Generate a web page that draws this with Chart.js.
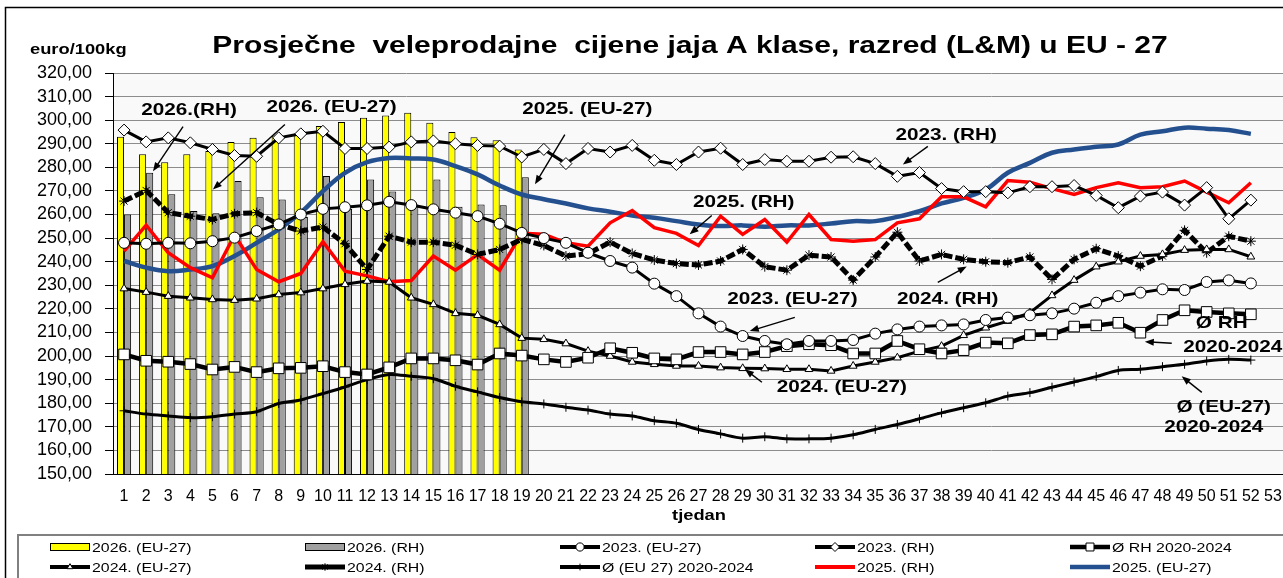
<!DOCTYPE html>
<html>
<head>
<meta charset="utf-8">
<script src="https://cdn.jsdelivr.net/npm/chart.js"></script>
<style>
  html, body { margin: 0; padding: 0; background: #fff; overflow: hidden; }
  #graphContainer { width: 1300px; height: 578px; }
</style>
</head>
<body>
<div id="graphContainer"><canvas id="grafica" width="1300" height="578"></canvas></div>
<script>
// tjedni 1..53
const tjedni = Array.from({ length: 53 }, (_, i) => String(i + 1));

// 2026 - stupci (tjedni 1-19)
const eu2026 = [293, 285.6, 282.2, 285.6, 286.9, 290.8, 292.5, 293.5, 294, 297.5, 299.2, 301, 302, 303.1, 298.9, 295, 292.8, 291.5, 287.6];
const rh2026 = [260, 277.7, 268.6, 261.5, 260.5, 274.2, 267.3, 266.4, 259, 276.3, 262.5, 274.9, 269.8, 264.3, 274.9, 263.3, 264.3, 263.9, 275.8];

// linije (tjedni 1-52)
const eu2023 = [248, 247.6, 248, 247.8, 248.7, 250.2, 253, 255.8, 260, 262.4, 263.1, 263.9, 265.4, 264, 262.2, 260.8, 259.3, 256.1, 252.2,
  250, 248, 243.8, 240.3, 237.5, 230.7, 225.4, 218.1, 212.5, 208.5, 206.4, 205, 206.4, 206.4, 206.8, 209.5, 211.3, 212.5,
  213, 213.4, 215.3, 216.3, 217.3, 218.1, 220.1, 222.6, 225.4, 226.9, 228.3, 228, 231.4, 232.1, 230.8];
const rh2023 = [295.8, 290.8, 292.5, 290.4, 287.6, 285, 284.7, 292.5, 294.2, 295.3, 288, 288, 288.6, 290.8, 291.2, 290, 289.3, 289, 284.4,
  287.6, 281.6, 288, 286.5, 289.3, 283, 281.2, 286.5, 288.1, 281.2, 283.3, 282.6, 282.6, 284.3, 284.5, 281.6, 276.2, 277.8,
  271, 269.7, 269.7, 269.2, 271.8, 271.8, 272.3, 268.1, 262.9, 267.8, 269.5, 264, 271.4, 258.2, 266.1];
const rhProsjek = [200.7, 198, 197.6, 196.6, 194.3, 195.4, 193.2, 194.8, 195, 195.7, 193.2, 192.2, 195.2, 199, 199, 198.2, 196.4, 201.1, 200.2,
  198.6, 197.5, 199.3, 203.3, 201.4, 199, 198.6, 201.7, 201.7, 200.7, 201.7, 204.2, 205, 204.6, 201.1, 201.1, 206.4, 202.9,
  201.1, 202.5, 205.7, 205.4, 208.9, 209.2, 212.5, 213, 214.1, 209.9, 215.3, 219.4, 218.7, 218.1, 217.7];
const eu2024 = [228.6, 227.1, 225.4, 224.7, 224, 223.7, 224.3, 226.1, 226.9, 228.6, 230.4, 231.8, 231.4, 224.7, 221.9, 218.1, 217.3, 213.4, 207.6,
  207.1, 205.3, 202.1, 200, 197.5, 196.5, 195.8, 195.8, 195.1, 194.8, 194.7, 194.4, 194.4, 193.7, 195.8, 197.5, 199.3, 202.1,
  204.2, 208.8, 212, 214.8, 218.4, 225.7, 232.2, 237.9, 240, 242.4, 243.1, 244.9, 245.2, 245.2, 242.1];
const rh2024 = [265.7, 270.2, 260.8, 259.3, 257.9, 260.3, 260.8, 255.8, 253, 254.7, 247.6, 236.7, 250.8, 248.3, 248.3, 247, 243.1, 245.2, 249.5,
  246.9, 242.4, 243.4, 248.3, 243.5, 240.7, 239.2, 238.6, 240.3, 245.2, 237.9, 236.4, 242.8, 242, 232.2, 242, 252.5, 240.3,
  243.1, 241, 240, 239.6, 242, 232.5, 241, 245.5, 242.4, 238.1, 242.4, 253.3, 243.8, 250.8, 248.7];
const euProsjek = [176.8, 175.4, 174.6, 173.9, 174.3, 175.4, 176.4, 179.9, 181.4, 184.1, 186.9, 190, 192.2, 191.4, 190.4, 187.2, 184.8, 182.4, 180.6,
  179.7, 178.3, 177.1, 175.4, 174.6, 172.6, 171.5, 168.9, 167, 165.2, 165.8, 164.9, 164.9, 165.2, 166.6, 168.9, 171, 173.4,
  175.9, 178.1, 180.2, 183, 184.5, 186.8, 189, 191.3, 193.9, 194.4, 195.5, 196.5, 197.9, 198.6, 198.3];
const rh2025 = [244.5, 255.5, 243.8, 237.5, 233.2, 251.3, 236.7, 231.5, 235, 248.5, 236, 234, 231.5, 232, 242.4, 236.4, 243, 236.4, 252,
  251.6, 248, 246.6, 256.5, 261.7, 254.4, 252, 246.9, 259.3, 251.6, 257.9, 248.3, 260, 249.4, 248.7, 249.4, 256.5, 258.2,
  267.5, 267.5, 263.3, 274.4, 273.7, 271, 268.5, 271.4, 273.5, 271.4, 271.8, 274.2, 269.5, 265, 273.5];
const eu2025 = [240.3, 237.5, 236, 236.7, 238.1, 242.4, 248, 253.7, 260.8, 269.9, 277.7, 282.2, 284, 283.8, 283.3, 280.5, 277, 272.3, 268.5,
  266.5, 264.7, 262.6, 261.2, 259.6, 258.6, 257.2, 255.8, 255.1, 255.4, 254.8, 255.4, 255.4, 256.2, 257.2, 257.2, 259, 261.4,
  264.7, 267.1, 270.6, 277.7, 281.9, 286.2, 287.6, 288.7, 289.7, 293.9, 295.3, 296.8, 296.4, 295.8, 294.2];

// oznake na grafu (tjedan-indeks, vrijednost) i strelice
const oznake = [
  { t: '2026.(RH)', i: 2.94, v: 304.2, od: [2.67, 297.3], do: [1.31, 278.3] },
  { t: '2026. (EU-27)', i: 9.39, v: 305.6, od: [7.28, 298.2], do: [4.02, 270.6] },
  { t: '2025. (EU-27)', i: 20.97, v: 304.5, od: [19.95, 293.9], do: [18.6, 272.8] },
  { t: '2023. (RH)', i: 37.21, v: 293.7, od: [36.38, 288.9], do: [35.25, 281.2] },
  { t: '2025. (RH)', i: 28.05, v: 265.3, od: [26.6, 259.6], do: [25.6, 251.6] },
  { t: '2023. (EU-27)', i: 30.25, v: 224.0, od: [30.36, 216.4], do: [28.32, 210.6] },
  { t: '2024. (RH)', i: 37.28, v: 224.0, od: [36.83, 231.2], do: [38.14, 238.0] },
  { t: '2024. (EU-27)', i: 32.49, v: 186.8, od: [28.87, 188.9], do: [28.1, 194.4] },
  { t: 'Ø RH', i: 49.68, v: 213.9 },
  { t: '2020-2024', i: 50.18, v: 203.7, od: [47.42, 205.4], do: [46.2, 206.1] },
  { t: 'Ø (EU-27)', i: 49.77, v: 178.3 },
  { t: '2020-2024', i: 49.32, v: 169.8, od: [48.78, 184.6], do: [47.87, 191.4] }
];

const FONT = "'Liberation Sans', Arial, sans-serif";
const SX = 1.22; // tekst je u originalu razvucen vodoravno

function linija(label, data, style, radius, width, dash, tension) {
    return {
        type: 'line', label: label, data: data,
        borderColor: '#000', borderWidth: width, borderDash: dash || [],
        pointStyle: style, pointRadius: radius, pointBorderWidth: 1,
        pointBackgroundColor: '#fff', pointBorderColor: '#000',
        tension: tension || 0, order: 1, spanGaps: true
    };
}

const datasets = [
    { type: 'bar', label: '2026. (EU-27)', data: eu2026, backgroundColor: '#ffff00', borderColor: '#000', borderWidth: 1, order: 5, barPercentage: 1, categoryPercentage: 0.64 },
    { type: 'bar', label: '2026. (RH)', data: rh2026, backgroundColor: '#a0a0a0', borderColor: '#000', borderWidth: 1, order: 5, barPercentage: 1, categoryPercentage: 0.64 },
    linija('2023. (EU-27)', eu2023, 'circle', 5.5, 3),
    linija('2023. (RH)', rh2023, 'rectRot', 6, 3),
    linija('Ø RH 2020-2024', rhProsjek, 'rect', 7.5, 4.5),
    linija('2024. (EU-27)', eu2024, 'triangle', 4.5, 3),
    linija('2024. (RH)', rh2024, 'star', 5, 5, [9, 3]),
    linija('Ø (EU 27) 2020-2024', euProsjek, 'cross', 4.5, 3, null, 0.3),
    { type: 'line', label: '2025. (RH)', data: rh2025, borderColor: '#ff0000', borderWidth: 3.5, pointRadius: 0, tension: 0, order: 2 },
    { type: 'line', label: '2025. (EU-27)', data: eu2025, borderColor: '#24508f', borderWidth: 4.5, pointRadius: 0, tension: 0.4, order: 2 }
];

function tekst(ctx, t, x, y, font, align, base, sx) {
    ctx.save();
    ctx.font = font;
    ctx.fillStyle = '#000';
    ctx.textAlign = align || 'center';
    ctx.textBaseline = base || 'middle';
    ctx.translate(x, y);
    ctx.scale(sx || SX, 1);
    ctx.fillText(t, 0, 0);
    ctx.restore();
}

function strelica(ctx, x1, y1, x2, y2) {
    const a = Math.atan2(y2 - y1, x2 - x1);
    ctx.save();
    ctx.strokeStyle = '#000';
    ctx.fillStyle = '#000';
    ctx.lineWidth = 1.4;
    ctx.beginPath();
    ctx.moveTo(x1, y1);
    ctx.lineTo(x2 - 6 * Math.cos(a), y2 - 6 * Math.sin(a));
    ctx.stroke();
    ctx.beginPath();
    ctx.moveTo(x2, y2);
    ctx.lineTo(x2 - 9 * Math.cos(a) + 3.5 * Math.sin(a), y2 - 9 * Math.sin(a) - 3.5 * Math.cos(a));
    ctx.lineTo(x2 - 9 * Math.cos(a) - 3.5 * Math.sin(a), y2 - 9 * Math.sin(a) + 3.5 * Math.cos(a));
    ctx.closePath();
    ctx.fill();
    ctx.restore();
}

const dekor = {
    id: 'dekor',
    beforeDraw(chart) {
        const { ctx, chartArea: a } = chart;
        ctx.save();
        ctx.fillStyle = '#fff';
        ctx.fillRect(0, 0, chart.width, chart.height);
        ctx.fillStyle = '#f9f9f9';
        ctx.fillRect(a.left, a.top, a.right - a.left, a.bottom - a.top);
        ctx.restore();
    },
    afterDraw(chart) {
        const { ctx } = chart;
        const xs = chart.scales.x, ys = chart.scales.y;

        // okvir
        ctx.save();
        ctx.strokeStyle = '#000';
        ctx.lineWidth = 1.5;
        ctx.beginPath();
        ctx.moveTo(5.5, 700);
        ctx.lineTo(5.5, 7.5);
        ctx.lineTo(1400, 7.5);
        ctx.stroke();
        ctx.restore();

        tekst(ctx, 'Prosječne  veleprodajne  cijene jaja A klase, razred (L&M) u EU - 27', 690, 53, 'bold 24px ' + FONT, 'center', 'alphabetic', 1.25);
        tekst(ctx, 'euro/100kg', 30, 54, 'bold 15px ' + FONT, 'left', 'alphabetic');
        tekst(ctx, 'tjedan', 699, 520, 'bold 15px ' + FONT, 'center', 'alphabetic');

        for (const o of oznake) {
            tekst(ctx, o.t, xs.getPixelForValue(o.i), ys.getPixelForValue(o.v), 'bold 17px ' + FONT);
            if (o.od) {
                strelica(ctx, xs.getPixelForValue(o.od[0]), ys.getPixelForValue(o.od[1]),
                    xs.getPixelForValue(o.do[0]), ys.getPixelForValue(o.do[1]));
            }
        }

        // legenda
        ctx.save();
        ctx.fillStyle = '#fff';
        ctx.fillRect(18, 535, 1400, 100);
        ctx.strokeStyle = '#808080';
        ctx.lineWidth = 2;
        ctx.strokeRect(18, 535, 1400, 100);
        ctx.restore();

        const redoslijed = [0, 1, 2, 3, 4, 5, 6, 7, 8, 9];
        const stupci = [50, 305, 560, 815, 1070];
        const redovi = [547, 567];
        redoslijed.forEach((di, k) => {
            const ds = chart.data.datasets[di];
            const x = stupci[k % 5], y = redovi[Math.floor(k / 5)];
            ctx.save();
            if (ds.type === 'bar') {
                ctx.fillStyle = ds.backgroundColor;
                ctx.fillRect(x, y - 4, 40, 8);
                ctx.strokeStyle = '#000';
                ctx.lineWidth = 1;
                ctx.strokeRect(x + 0.5, y - 3.5, 39, 7);
            } else {
                ctx.strokeStyle = ds.borderColor;
                ctx.lineWidth = Math.max(ds.borderWidth, 4);
                ctx.beginPath();
                ctx.moveTo(x, y);
                ctx.lineTo(x + 40, y);
                ctx.stroke();
                if (ds.pointRadius > 0) {
                    ctx.fillStyle = '#fff';
                    ctx.strokeStyle = '#000';
                    ctx.lineWidth = 1;
                    Chart.helpers.drawPoint(ctx, { pointStyle: ds.pointStyle, rotation: 0, radius: ds.pointRadius * 0.75, borderWidth: 1 }, x + 20, y);
                }
            }
            ctx.restore();
            tekst(ctx, ds.label, x + 42, y + 1, '13px ' + FONT, 'left');
        });
    }
};

new Chart(document.getElementById('grafica'), {
    data: { labels: tjedni, datasets: datasets },
    options: {
        responsive: false,
        animation: false,
        devicePixelRatio: 1,
        layout: { padding: { top: 73, bottom: 64, left: 0, right: 16 } },
        plugins: { legend: { display: false }, title: { display: false }, tooltip: { enabled: false } },
        scales: {
            x: {
                offset: true,
                grid: { display: false },
                border: { color: '#000', width: 1 },
                ticks: { autoSkip: false, maxRotation: 0, minRotation: 0, color: '#000', padding: 5, font: { family: FONT, size: 16 } },
                afterFit: s => { s.height = 40; }
            },
            y: {
                min: 150, max: 320,
                grid: { color: '#8c8c8c', tickColor: '#000', tickLength: 8, lineWidth: 1 },
                border: { color: '#000', width: 1 },
                ticks: { stepSize: 10, autoSkip: false, color: '#000', padding: 13, font: { family: FONT, size: 18 },
                    callback: v => v.toFixed(2).replace('.', ',') },
                afterFit: s => { s.width = 113; }
            }
        }
    },
    plugins: [dekor]
});
</script>
</body>
</html>
